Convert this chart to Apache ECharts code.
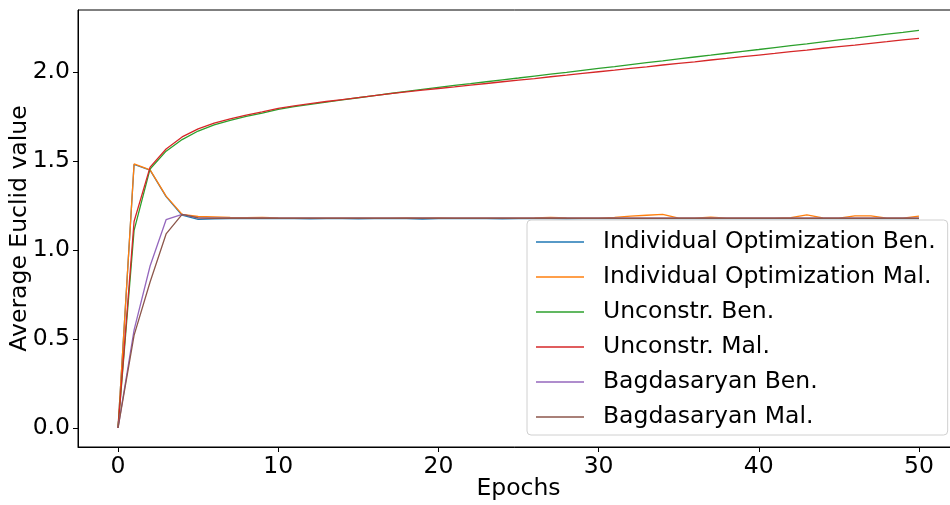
<!DOCTYPE html>
<html>
<head>
<meta charset="utf-8">
<script src="https://cdn.jsdelivr.net/npm/echarts@6/dist/echarts.min.js"></script>
<style>html,body{margin:0;padding:0;background:#fff}#c{width:950px;height:505px}</style>
</head>
<body>
<div id="c"></div>
<script>
const epochs = Array.from({length: 51}, (_, i) => i);
const xTicks = [0, 10, 20, 30, 40, 50];
const yTicks = [0, 0.5, 1.0, 1.5, 2.0];

const indOptBen = [0, 1.480, 1.448, 1.300, 1.195, 1.172, 1.175, 1.176, 1.177, 1.176, 1.176,
  1.176, 1.175, 1.176, 1.176, 1.175, 1.176, 1.176, 1.176, 1.174, 1.176,
  1.176, 1.176, 1.176, 1.175, 1.176, 1.176, 1.176, 1.175, 1.176, 1.176,
  1.176, 1.176, 1.176, 1.176, 1.176, 1.176, 1.176, 1.176, 1.176, 1.176,
  1.176, 1.176, 1.176, 1.176, 1.176, 1.176, 1.176, 1.176, 1.176, 1.176];
const indOptMal = [0, 1.483, 1.450, 1.302, 1.200, 1.188, 1.186, 1.183, 1.182, 1.183, 1.180,
  1.179, 1.179, 1.179, 1.179, 1.179, 1.179, 1.179, 1.180, 1.179, 1.180,
  1.179, 1.179, 1.179, 1.179, 1.179, 1.180, 1.183, 1.180, 1.179, 1.179,
  1.183, 1.190, 1.195, 1.200, 1.179, 1.179, 1.184, 1.179, 1.179, 1.179,
  1.179, 1.181, 1.197, 1.180, 1.179, 1.191, 1.191, 1.179, 1.179, 1.190];
const unconBen = [0, 1.110, 1.455, 1.555, 1.620, 1.668, 1.703, 1.728, 1.750, 1.769, 1.790,
  1.805, 1.818, 1.831, 1.843, 1.855, 1.867, 1.879, 1.891, 1.902, 1.913,
  1.924, 1.934, 1.945, 1.956, 1.966, 1.977, 1.988, 1.998, 2.009, 2.020,
  2.030, 2.041, 2.052, 2.062, 2.073, 2.084, 2.094, 2.105, 2.116, 2.126,
  2.137, 2.148, 2.158, 2.169, 2.180, 2.190, 2.201, 2.212, 2.222, 2.233];
const unconMal = [0, 1.160, 1.465, 1.567, 1.635, 1.680, 1.712, 1.737, 1.758, 1.776, 1.795,
  1.809, 1.822, 1.834, 1.845, 1.856, 1.867, 1.878, 1.888, 1.898, 1.907,
  1.916, 1.926, 1.935, 1.945, 1.954, 1.963, 1.973, 1.982, 1.992, 2.001,
  2.010, 2.020, 2.029, 2.039, 2.048, 2.057, 2.067, 2.076, 2.086, 2.095,
  2.104, 2.114, 2.123, 2.133, 2.142, 2.151, 2.161, 2.170, 2.180, 2.189];
const bagBen = [0, 0.550, 0.910, 1.170, 1.200, 1.180, 1.178, 1.178, 1.178, 1.178, 1.178,
  1.178, 1.178, 1.178, 1.178, 1.178, 1.178, 1.178, 1.178, 1.178, 1.178,
  1.178, 1.178, 1.178, 1.178, 1.178, 1.178, 1.178, 1.178, 1.178, 1.178,
  1.178, 1.178, 1.178, 1.178, 1.178, 1.178, 1.178, 1.178, 1.178, 1.178,
  1.178, 1.178, 1.178, 1.178, 1.178, 1.178, 1.178, 1.178, 1.178, 1.178];
const bagMal = [0, 0.520, 0.820, 1.090, 1.200, 1.180, 1.178, 1.178, 1.178, 1.178, 1.178,
  1.178, 1.178, 1.178, 1.178, 1.178, 1.178, 1.178, 1.178, 1.178, 1.178,
  1.178, 1.178, 1.178, 1.178, 1.178, 1.178, 1.178, 1.178, 1.178, 1.178,
  1.178, 1.178, 1.178, 1.178, 1.178, 1.178, 1.178, 1.178, 1.178, 1.178,
  1.178, 1.178, 1.178, 1.178, 1.178, 1.178, 1.178, 1.178, 1.178, 1.178];

const names = ['Individual Optimization Ben.', 'Individual Optimization Mal.', 'Unconstr. Ben.',
  'Unconstr. Mal.', 'Bagdasaryan Ben.', 'Bagdasaryan Mal.'];
const values = [indOptBen, indOptMal, unconBen, unconMal, bagBen, bagMal];
const colors = ['#1f77b4', '#ff7f0e', '#2ca02c', '#d62728', '#9467bd', '#8c564b'];

const font = 'DejaVu Sans';
const FS = 23.5;
const chart = echarts.init(document.getElementById('c'), null, {renderer: 'canvas'});
chart.setOption({
  animation: false,
  backgroundColor: '#fff',
  grid: {left: 78, top: 10, width: 881, height: 437, show: true, borderColor: '#000', borderWidth: 1,
    backgroundColor: 'transparent', containLabel: false, outerBoundsMode: 'none'},
  xAxis: {
    type: 'value', min: -2.5, max: 52.5,
    name: 'Epochs', nameLocation: 'middle', nameGap: 30, nameMoveOverlap: false,
    nameTextStyle: {fontFamily: font, fontSize: FS, color: '#000'},
    axisLine: {show: true, onZero: false, lineStyle: {color: '#000', width: 1}},
    axisTick: {show: true, length: 5, lineStyle: {color: '#000'}, customValues: xTicks},
    axisLabel: {fontFamily: font, fontSize: FS, color: '#000', margin: 8, customValues: xTicks},
    splitLine: {show: false}
  },
  yAxis: {
    type: 'value', min: -0.107, max: 2.348,
    name: 'Average Euclid value', nameLocation: 'middle', nameGap: 46, nameRotate: 90, nameMoveOverlap: false,
    nameTextStyle: {fontFamily: font, fontSize: FS, color: '#000'},
    axisLine: {show: true, onZero: false, lineStyle: {color: '#000', width: 1}},
    axisTick: {show: true, length: 5, lineStyle: {color: '#000'}, customValues: yTicks},
    axisLabel: {fontFamily: font, fontSize: FS, color: '#000', margin: 8, customValues: yTicks,
      formatter: v => v.toFixed(1)},
    splitLine: {show: false}
  },
  legend: {
    orient: 'vertical', left: 527, top: 220,
    icon: 'rect', itemWidth: 48, itemHeight: 1.3, itemGap: 11,
    padding: [10, 12, 6, 9],
    backgroundColor: 'rgba(255,255,255,0.8)', borderColor: '#d0d0d0', borderWidth: 1, borderRadius: 4,
    textStyle: {fontFamily: font, fontSize: FS, lineHeight: 24, color: '#000', padding: [0, 0, 0, 14]},
    data: names
  },
  series: names.map((n, i) => ({
    name: n, type: 'line', symbol: 'none', showSymbol: false,
    data: epochs.map((e, j) => [e, values[i][j]]),
    lineStyle: {color: colors[i], width: 1.3},
    itemStyle: {color: colors[i]},
    z: 2 + i
  }))
});
</script>
</body>
</html>
